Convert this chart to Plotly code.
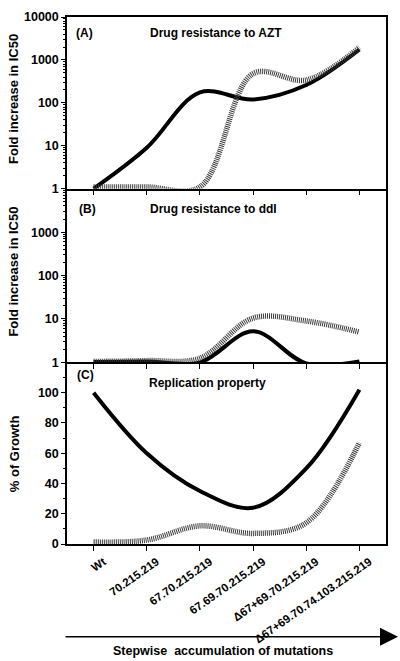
import plotly.graph_objects as go

# ---------------- data ----------------
categories = ["Wt", "70.215.219", "67.70.215.219", "67.69.70.215.219",
              "Δ67+69.70.215.219", "Δ67+69.70.74.103.215.219"]
azt_solid = [1, 9, 175, 120, 260, 1750]
azt_hatched = [1.1, 1.1, 1.1, 480, 340, 1950]
ddi_solid = [1.02, 1.05, 1.0, 5.2, 0.95, 1.05]
ddi_hatched = [1.05, 1.1, 1.25, 10.5, 9, 5]
growth_solid = [100, 60, 35, 24, 50, 102]
growth_hatched = [1.3, 2.6, 12, 7, 14, 67]

log_ticks_a = [1, 10, 100, 1000, 10000]
log_ticks_b = [1, 10, 100, 1000]
lin_ticks_c = [0, 20, 40, 60, 80, 100]

# ---------------- geometry helpers ----------------
W, H = 400, 661
L, R, T, B = 67, 14, 10, 117
PW, PH = W - L - R, H - T - B


def xp(px):
    return (px - L) / PW


def yp(py):
    return (H - B - py) / PH


FONT = "Liberation Sans, Arial, sans-serif"
x = list(range(len(categories)))

fig = go.Figure()

solid = dict(color="black", width=4, shape="spline", smoothing=1)
hatch = dict(color="#3a3a3a", width=5.5, shape="spline", smoothing=1, dash="1px,1px")

panels = [
    ("x", "y", azt_solid, azt_hatched),
    ("x2", "y2", ddi_solid, ddi_hatched),
    ("x3", "y3", growth_solid, growth_hatched),
]
for xa, ya, s, h in panels:
    fig.add_trace(go.Scatter(x=x, y=s, mode="lines", line=solid, xaxis=xa, yaxis=ya,
                             showlegend=False, hoverinfo="skip"))
    fig.add_trace(go.Scatter(x=x, y=h, mode="lines", line=hatch, xaxis=xa, yaxis=ya,
                             showlegend=False, hoverinfo="skip"))

dom_c = [0, yp(360)]
dom_b = [yp(360), yp(184)]
dom_a = [yp(184), 1]

axis_common = dict(showline=True, linecolor="black", linewidth=1.5, mirror=True,
                   showgrid=False, zeroline=False, ticks="outside", ticklen=4,
                   tickcolor="black", tickwidth=1.2,
                   tickfont=dict(family=FONT, size=12.5, color="black", weight="bold"))

xcommon = dict(axis_common, range=[-0.5, 5.5], tickmode="array", tickvals=x, ticklen=5)

log_minor = [v * m for v in [1, 10, 100, 1000] for m in range(2, 10)]

fig.update_layout(
    width=W, height=H,
    margin=dict(l=L, r=R, t=T, b=B),
    paper_bgcolor="white", plot_bgcolor="white",
    xaxis=dict(xcommon, anchor="y", domain=[0, 1], showticklabels=False),
    xaxis2=dict(xcommon, anchor="y2", domain=[0, 1], showticklabels=False, mirror=False),
    xaxis3=dict(xcommon, anchor="y3", domain=[0, 1], ticktext=categories, mirror=False,
                tickangle=-35, ticklabelshift=10,
                tickfont=dict(family=FONT, size=11.5, color="black", weight="bold")),
    yaxis=dict(axis_common, anchor="x", domain=dom_a, type="log", range=[0, 4],
               tickmode="array", tickvals=log_ticks_a, ticktext=[str(v) for v in log_ticks_a],
               minor=dict(tickmode="array", tickvals=log_minor, ticks="outside",
                          ticklen=2, tickcolor="black")),
    yaxis2=dict(axis_common, anchor="x2", domain=dom_b, type="log", range=[0, 4],
                tickmode="array", tickvals=log_ticks_b, ticktext=[str(v) for v in log_ticks_b],
                minor=dict(tickmode="array", tickvals=log_minor, ticks="outside",
                           ticklen=2, tickcolor="black")),
    yaxis3=dict(axis_common, anchor="x3", domain=dom_c, range=[0, 120],
                tickmode="array", tickvals=lin_ticks_c, ticktext=[str(v) for v in lin_ticks_c],
                minor=dict(tickmode="array", tickvals=[10, 30, 50, 70, 90, 110],
                           ticks="outside", ticklen=2, tickcolor="black")),
)

bold = lambda s: dict(family=FONT, size=s, color="black", weight="bold")
ann = []
# panel letters and titles
for lab, title, lx, ly, tx, ty in [("(A)", "Drug resistance to AZT", 74, 26, 216, 26),
                                   ("(B)", "Drug resistance to ddI", 77, 205, 213, 205),
                                   ("(C)", "Replication property", 75, 373, 207, 381)]:
    ann.append(dict(text=lab, x=xp(lx), y=yp(ly), xref="paper", yref="paper",
                    xanchor="left", yanchor="middle", showarrow=False, font=bold(12)))
    ann.append(dict(text=title, x=xp(tx), y=yp(ty), xref="paper", yref="paper",
                    xanchor="center", yanchor="middle", showarrow=False, font=bold(12)))
# y titles
for txt, cy in [("Fold increase in IC50", 93), ("Fold increase in IC50", 268), ("% of Growth", 453)]:
    ann.append(dict(text=txt, x=xp(14), y=yp(cy), xref="paper", yref="paper", textangle=-90,
                    xanchor="center", yanchor="middle", showarrow=False, font=bold(13)))
# arrow
ann.append(dict(text="", x=xp(398), y=yp(638), ax=-(398 - 64), ay=0, xref="paper", yref="paper",
                axref="pixel", ayref="pixel", showarrow=True, arrowhead=2, arrowsize=2.4,
                arrowwidth=1.5, arrowcolor="black"))
ann.append(dict(text="Stepwise  accumulation of mutations", x=xp(223), y=yp(652),
                xref="paper", yref="paper", xanchor="center", yanchor="middle",
                showarrow=False, font=bold(12.5)))
fig.update_layout(annotations=ann)

fig.write_html("out.html", config={"displayModeBar": False},
               post_script="document.body.style.margin='0';")
